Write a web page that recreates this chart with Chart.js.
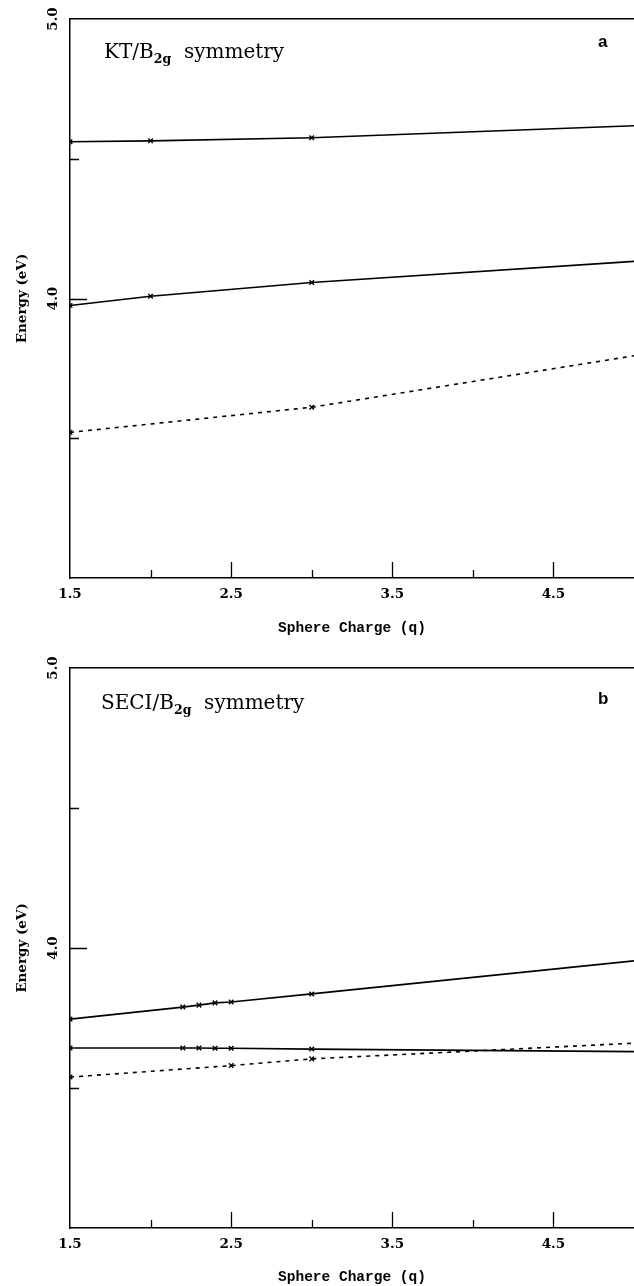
<!DOCTYPE html>
<html>
<head>
<meta charset="utf-8">
<script src="https://cdn.jsdelivr.net/npm/chart.js@4.4.1/dist/chart.umd.min.js"></script>
<style>
  html, body { margin: 0; padding: 0; background: #fff; }
  body { width: 634px; height: 1286px; position: relative; overflow: hidden; }
  canvas { position: absolute; left: 0; }
  #chartA { top: 0; }
  #chartB { top: 643px; }
  .sym { position: absolute; font-family: "DejaVu Serif", serif; font-size: 20px; line-height: 1; color: #000; white-space: pre; }
  .sym sub { font-size: 12.5px; font-weight: bold; vertical-align: -5px; line-height: 0; }
  .tag { position: absolute; font-family: "Liberation Sans", Arial, sans-serif; font-weight: bold; font-size: 17px; line-height: 1; color: #000; }
</style>
</head>
<body>
<canvas id="chartA" width="634" height="643"></canvas>
<canvas id="chartB" width="634" height="643"></canvas>
<div class="sym" style="left:104px; top:41px;">KT/B<sub>2g</sub>  symmetry</div>
<div class="tag" style="left:598px; top:33px;">a</div>
<div class="sym" style="left:101px; top:692px;">SECI/B<sub>2g</sub>  symmetry</div>
<div class="tag" style="left:598px; top:690px;">b</div>
<script>
// tick labels and tick marks
const xTickValues = [1.5, 2.5, 3.5, 4.5];
const yTickValues = [4.0, 5.0];
const xMajorMarks = [2.5, 3.5, 4.5];
const xMinorMarks = [2.0, 3.0, 4.0];
const yMajorMarks = [4.0];
const yMinorMarks = [3.5, 4.5];

// panel a : KT / B2g
const qKT = [1.5, 2.0, 3.0, 5.0];
const ktUpper = [4.561, 4.564, 4.575, 4.618];
const ktMiddle = [3.975, 4.008, 4.057, 4.133];
const qKTDash = [1.5, 3.0, 5.0];
const ktDash = [3.521, 3.611, 3.795];

// panel b : SECI / B2g
const qSECI = [1.5, 2.2, 2.3, 2.4, 2.5, 3.0, 5.0];
const seciUpper = [3.746, 3.789, 3.796, 3.804, 3.807, 3.836, 3.954];
const seciFlat = [3.643, 3.643, 3.643, 3.642, 3.642, 3.639, 3.630];
const qSECIDash = [1.5, 2.5, 3.0, 5.0];
const seciDash = [3.539, 3.580, 3.604, 3.660];

function pts(xs, ys) {
    return xs.map(function (x, i) { return { x: x, y: ys[i] }; });
}

function serie(xs, ys, dashed) {
    return {
        data: pts(xs, ys),
        borderColor: '#000',
        borderWidth: 1.6,
        borderDash: dashed ? [4, 5] : [],
        pointStyle: 'crossRot',
        pointRadius: function (c) { return c.raw && c.raw.x >= 5 ? 0 : 3.2; },
        pointBorderColor: '#000',
        pointBorderWidth: 1.4,
        pointBackgroundColor: '#000',
        fill: false,
        tension: 0
    };
}

// ticks pointing into the plot, long on major values
const inwardTicks = {
    id: 'inwardTicks',
    afterDatasetsDraw: function (chart) {
        const ctx = chart.ctx;
        const x = chart.scales.x, y = chart.scales.y;
        const area = chart.chartArea;
        ctx.save();
        ctx.strokeStyle = '#000';
        ctx.lineWidth = 1.3;
        ctx.beginPath();
        xMajorMarks.forEach(function (v) {
            const p = Math.round(x.getPixelForValue(v)) + 0.5;
            ctx.moveTo(p, area.bottom); ctx.lineTo(p, area.bottom - 16);
        });
        xMinorMarks.forEach(function (v) {
            const p = Math.round(x.getPixelForValue(v)) + 0.5;
            ctx.moveTo(p, area.bottom); ctx.lineTo(p, area.bottom - 8);
        });
        yMajorMarks.forEach(function (v) {
            const p = Math.round(y.getPixelForValue(v)) + 0.5;
            ctx.moveTo(area.left, p); ctx.lineTo(area.left + 17, p);
        });
        yMinorMarks.forEach(function (v) {
            const p = Math.round(y.getPixelForValue(v)) + 0.5;
            ctx.moveTo(area.left, p); ctx.lineTo(area.left + 9, p);
        });
        ctx.stroke();
        ctx.restore();
    }
};

const tickFont = { family: 'DejaVu Serif', weight: 'bold', size: 13.5 };

function makeChart(id, datasets, padTop, xAxisHeight, xTitlePad) {
    return new Chart(document.getElementById(id).getContext('2d'), {
        type: 'line',
        data: { datasets: datasets },
        plugins: [inwardTicks],
        options: {
            responsive: false,
            animation: false,
            devicePixelRatio: 1,
            layout: { autoPadding: false, padding: { top: padTop, right: -2, bottom: 0, left: 0 } },
            plugins: { legend: { display: false }, tooltip: { enabled: false } },
            scales: {
                x: {
                    type: 'linear', position: 'bottom', min: 1.5, max: 5.0,
                    afterBuildTicks: function (s) { s.ticks = xTickValues.map(function (v) { return { value: v }; }); },
                    afterFit: function (s) { s.height = xAxisHeight; s.paddingLeft = 0; s.paddingRight = 0; },
                    grid: { display: false, drawTicks: false },
                    border: { display: true, color: '#000', width: 1.5 },
                    ticks: {
                        color: '#000', font: tickFont, padding: 8, maxRotation: 0, autoSkip: false,
                        callback: function (v) { return Number(v).toFixed(1); }
                    },
                    title: {
                        display: true, text: 'Sphere Charge (q)', color: '#000',
                        font: { family: 'Liberation Mono', weight: 'bold', size: 14.5 },
                        padding: { top: 0, bottom: xTitlePad }
                    }
                },
                xTop: {
                    type: 'linear', position: 'top', min: 1.5, max: 5.0,
                    afterFit: function (s) { s.height = 0; s.paddingLeft = 0; s.paddingRight = 0; },
                    grid: { display: false, drawTicks: false },
                    border: { display: true, color: '#000', width: 1.5 },
                    ticks: { display: false }
                },
                y: {
                    type: 'linear', min: 3.0, max: 5.0,
                    afterBuildTicks: function (s) { s.ticks = yTickValues.map(function (v) { return { value: v }; }); },
                    afterFit: function (s) { s.width = 70; },
                    grid: { display: false, drawTicks: false },
                    border: { display: true, color: '#000', width: 1.5 },
                    ticks: {
                        color: '#000', font: tickFont, padding: 5,
                        minRotation: 90, maxRotation: 90, crossAlign: 'center',
                        callback: function (v) { return Number(v).toFixed(1); }
                    },
                    title: {
                        display: true, text: 'Energy (eV)', color: '#000',
                        font: { family: 'DejaVu Serif', weight: 'bold', size: 13.5 },
                        padding: { top: 14, bottom: 0 }
                    }
                }
            }
        }
    });
}

makeChart('chartA', [
    serie(qKT, ktUpper, false),
    serie(qKT, ktMiddle, false),
    serie(qKTDash, ktDash, true)
], 19, 65, 6);

makeChart('chartB', [
    serie(qSECI, seciUpper, false),
    serie(qSECI, seciFlat, false),
    serie(qSECIDash, seciDash, true)
], 25, 58, 0);
</script>
</body>
</html>
